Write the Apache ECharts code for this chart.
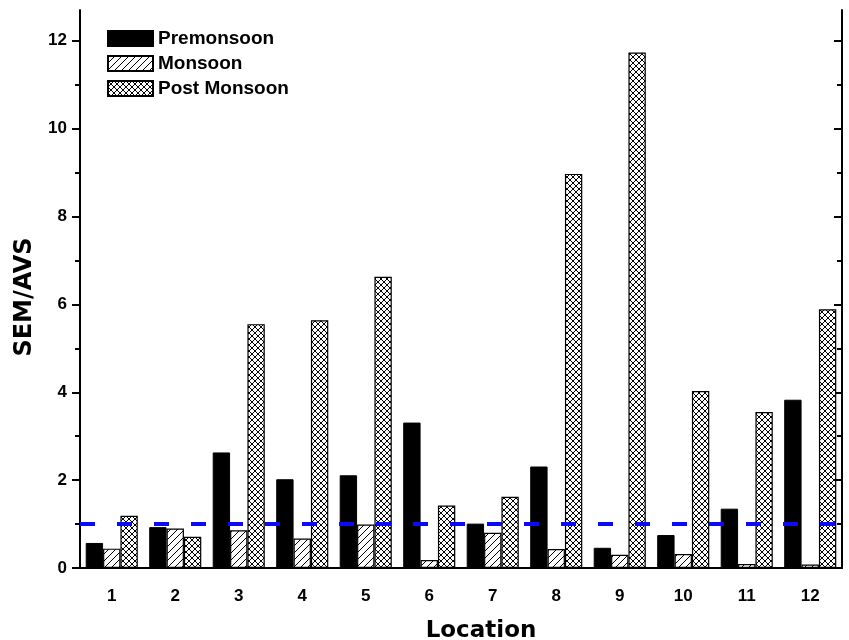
<!DOCTYPE html>
<html>
<head>
<meta charset="utf-8">
<script src="https://cdn.jsdelivr.net/npm/echarts@6/dist/echarts.min.js"></script>
<style>
  html, body { margin: 0; padding: 0; background: #fff; }
  #chart { width: 849px; height: 640px; }
</style>
</head>
<body>
<div id="chart"></div>
<script>
var locations = ['1', '2', '3', '4', '5', '6', '7', '8', '9', '10', '11', '12'];
var premonsoon = [0.57, 0.93, 2.63, 2.02, 2.11, 3.31, 1.01, 2.31, 0.46, 0.75, 1.35, 3.83];
var monsoon = [0.44, 0.90, 0.86, 0.67, 0.99, 0.18, 0.80, 0.43, 0.30, 0.32, 0.09, 0.08];
var postMonsoon = [1.19, 0.71, 5.55, 5.64, 6.63, 1.42, 1.62, 8.97, 11.73, 4.03, 3.55, 5.89];
var yTicks = [0, 2, 4, 6, 8, 10, 12];
var refLevel = 1;

/* hatch fills */
function makeHatch(size, cross, width) {
    var c = document.createElement('canvas');
    c.width = size; c.height = size;
    var ctx = c.getContext('2d');
    ctx.fillStyle = '#fff';
    ctx.fillRect(0, 0, size, size);
    ctx.strokeStyle = '#000';
    ctx.lineWidth = width;
    ctx.beginPath();
    ctx.moveTo(-1, 1); ctx.lineTo(1, -1);
    ctx.moveTo(0, size); ctx.lineTo(size, 0);
    ctx.moveTo(size - 1, size + 1); ctx.lineTo(size + 1, size - 1);
    if (cross) {
        ctx.moveTo(-1, size - 1); ctx.lineTo(1, size + 1);
        ctx.moveTo(0, 0); ctx.lineTo(size, size);
        ctx.moveTo(size - 1, -1); ctx.lineTo(size + 1, 1);
    }
    ctx.stroke();
    return { image: c, repeat: 'repeat' };
}
var diagFill = makeHatch(7, false, 1);
var crossFill = makeHatch(6, true, 1);

var font = 'Liberation Sans, Arial, sans-serif';
var nameFont = 'DejaVu Sans, sans-serif';
var chart = echarts.init(document.getElementById('chart'));

var option = {
    animation: false,
    backgroundColor: '#fff',
    grid: { left: 80, right: 7, top: 10, bottom: 72, outerBoundsMode: 'none', containLabel: false },
    legend: {
        left: 102,
        top: 24,
        orient: 'vertical',
        icon: 'rect',
        itemWidth: 45,
        itemHeight: 15,
        itemGap: 6,
        textStyle: { fontFamily: font, fontWeight: 'bold', fontSize: 19, color: '#000' },
        data: ['Premonsoon', 'Monsoon', 'Post Monsoon']
    },
    xAxis: [{
        type: 'category',
        data: locations,
        name: 'Location',
        nameLocation: 'middle',
        nameGap: 52,
        nameTextStyle: { fontFamily: nameFont, fontWeight: 'bold', fontSize: 23, color: '#000', padding: [0, 0, 0, 40] },
        axisLine: { lineStyle: { color: '#000', width: 2 } },
        axisTick: { alignWithLabel: true, length: 8, lineStyle: { color: '#000', width: 2 } },
        axisLabel: { margin: 20, fontFamily: font, fontWeight: 'bold', fontSize: 17, color: '#000' },
        splitLine: { show: false }
    }, {
        type: 'category',
        data: locations,
        position: 'bottom',
        axisLine: { show: false },
        axisTick: { length: 4, lineStyle: { color: '#000', width: 2 } },
        axisLabel: { show: false },
        splitLine: { show: false }
    }],
    yAxis: [{
        type: 'value',
        min: 0,
        max: 12.7,
        interval: 2,
        name: 'SEM/AVS',
        nameLocation: 'middle',
        nameGap: 42,
        nameTextStyle: { fontFamily: nameFont, fontWeight: 'bold', fontSize: 24, color: '#000', padding: [0, 16, 0, 0] },
        axisLine: { show: true, lineStyle: { color: '#000', width: 2 } },
        axisTick: { show: true, length: 8, customValues: yTicks, lineStyle: { color: '#000', width: 2 } },
        minorTick: { show: true, splitNumber: 2, length: 5, lineStyle: { color: '#000', width: 2 } },
        axisLabel: { margin: 13, customValues: yTicks, fontFamily: font, fontWeight: 'bold', fontSize: 17, color: '#000' },
        splitLine: { show: false }
    }, {
        type: 'value',
        position: 'right',
        min: 0,
        max: 12.7,
        interval: 2,
        axisLine: { show: true, lineStyle: { color: '#000', width: 2 } },
        axisTick: { show: true, inside: true, length: 8, customValues: yTicks, lineStyle: { color: '#000', width: 2 } },
        minorTick: { show: true, splitNumber: 2, length: 5, lineStyle: { color: '#000', width: 2 } },
        axisLabel: { show: false },
        splitLine: { show: false }
    }],
    series: [{
        name: 'Premonsoon',
        type: 'bar',
        data: premonsoon,
        barGap: '0%',
        barCategoryGap: '18%',
        itemStyle: { color: '#000', borderColor: '#000', borderWidth: 1 },
        markLine: {
            silent: true,
            symbol: 'none',
            label: { show: false },
            lineStyle: { color: '#0a0aff', width: 4, type: [15, 22] },
            data: [{ yAxis: refLevel }]
        }
    }, {
        name: 'Monsoon',
        type: 'bar',
        data: monsoon,
        barGap: '0%',
        barCategoryGap: '18%',
        itemStyle: { color: diagFill, borderColor: '#000', borderWidth: 1.2 }
    }, {
        name: 'Post Monsoon',
        type: 'bar',
        data: postMonsoon,
        barGap: '0%',
        barCategoryGap: '18%',
        itemStyle: { color: crossFill, borderColor: '#000', borderWidth: 1.2 }
    }]
};
chart.setOption(option);
</script>
</body>
</html>
